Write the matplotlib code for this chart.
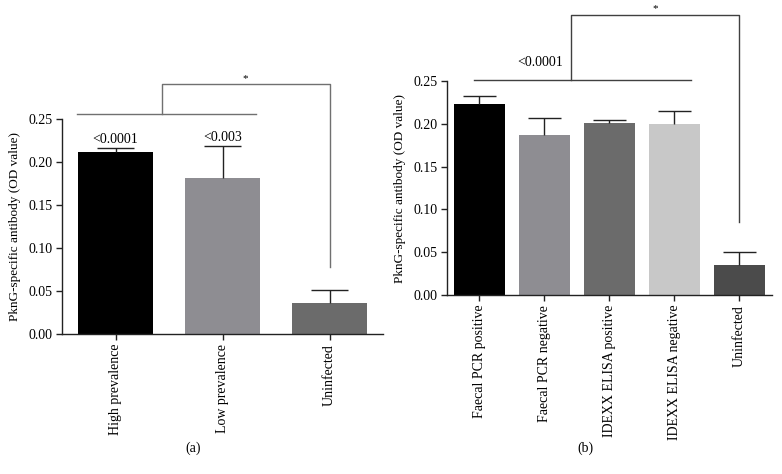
import matplotlib
matplotlib.use("Agg")
import matplotlib.pyplot as plt

plt.rcParams['font.family'] = ['Liberation Serif', 'DejaVu Serif']

# ---- data ----
cats_a = ["High prevalence", "Low prevalence", "Uninfected"]
means_a = [0.212, 0.181, 0.036]
sem_a = [0.004, 0.038, 0.015]
colors_a = ["#000000", "#8e8d92", "#6b6b6b"]
pvals_a = ["<0.0001", "<0.003", ""]

cats_b = ["Faecal PCR positive", "Faecal PCR negative", "IDEXX ELISA positive",
          "IDEXX ELISA negative", "Uninfected"]
means_b = [0.223, 0.187, 0.201, 0.200, 0.035]
sem_b = [0.010, 0.020, 0.003, 0.015, 0.015]
colors_b = ["#000000", "#8e8d92", "#6b6b6b", "#c8c8c8", "#4b4b4b"]

yticks = [0.00, 0.05, 0.10, 0.15, 0.20, 0.25]
ylabel = "PknG-specific antibody (OD value)"

fig = plt.figure(figsize=(7.82, 4.74), dpi=100)
ax_a = fig.add_axes([0.0793, 0.2954, 0.4105, 0.4536])
ax_b = fig.add_axes([0.5716, 0.3776, 0.4156, 0.4515])

FS = 10


def style(ax, cats):
    ax.set_ylim(0, 0.25)
    ax.set_xlim(-0.5, len(cats) - 0.5)
    ax.set_yticks(yticks)
    ax.set_yticklabels([f"{t:.2f}" for t in yticks], fontsize=FS)
    ax.set_xticks(range(len(cats)))
    ax.set_xticklabels(cats, rotation=90, fontsize=FS)
    for s in ["top", "right"]:
        ax.spines[s].set_visible(False)
    for s in ["left", "bottom"]:
        ax.spines[s].set_linewidth(1.0)
        ax.spines[s].set_color("#222222")
    ax.tick_params(axis="both", direction="out", length=4, width=1.0,
                   color="#222222", pad=3)
    ax.set_ylabel(ylabel, fontsize=9.5, labelpad=5)


def bars(ax, means, sems, colors, width, cap):
    x = list(range(len(means)))
    ax.bar(x, means, width=width, color=colors, edgecolor="none", zorder=2)
    tops = [m + s for m, s in zip(means, sems)]
    ax.vlines(x, means, tops, color="#222222", lw=1.0, zorder=3)
    ax.hlines(tops, [i - cap for i in x], [i + cap for i in x],
              color="#222222", lw=1.0, zorder=3)
    return tops


# ---- panel (a) ----
style(ax_a, cats_a)
tops_a = bars(ax_a, means_a, sem_a, colors_a, 0.70, 0.175)
for i, (t, p) in enumerate(zip(tops_a, pvals_a)):
    if p:
        ax_a.text(i, t + 0.002, p, ha="center", va="bottom", fontsize=FS)
# significance bracket
ln = dict(color="#707070", lw=1.0, clip_on=False)
ax_a.plot([-0.36, 1.31], [0.2555, 0.2555], **ln)
ax_a.plot([0.43, 0.43, 2.0, 2.0], [0.2555, 0.2903, 0.2903, 0.078], **ln)
ax_a.text(1.21, 0.2915, "*", ha="center", va="bottom", fontsize=FS - 2)
fig.text(193 / 782, 1 - 448 / 474, "(a)", ha="center", va="center", fontsize=FS)

# ---- panel (b) ----
style(ax_b, cats_b)
tops_b = bars(ax_b, means_b, sem_b, colors_b, 0.78, 0.25)
ln = dict(color="#404040", lw=1.0, clip_on=False)
ax_b.plot([-0.08, 3.26], [0.2508, 0.2508], **ln)
ax_b.plot([1.41, 1.41, 4.0, 4.0], [0.2508, 0.327, 0.327, 0.0856], **ln)
ax_b.text(0.93, 0.2635, "<0.0001", ha="center", va="bottom", fontsize=FS)
ax_b.text(2.71, 0.329, "*", ha="center", va="bottom", fontsize=FS - 2)
fig.text(585 / 782, 1 - 448 / 474, "(b)", ha="center", va="center", fontsize=FS)

fig.savefig("out.png", dpi=100)
